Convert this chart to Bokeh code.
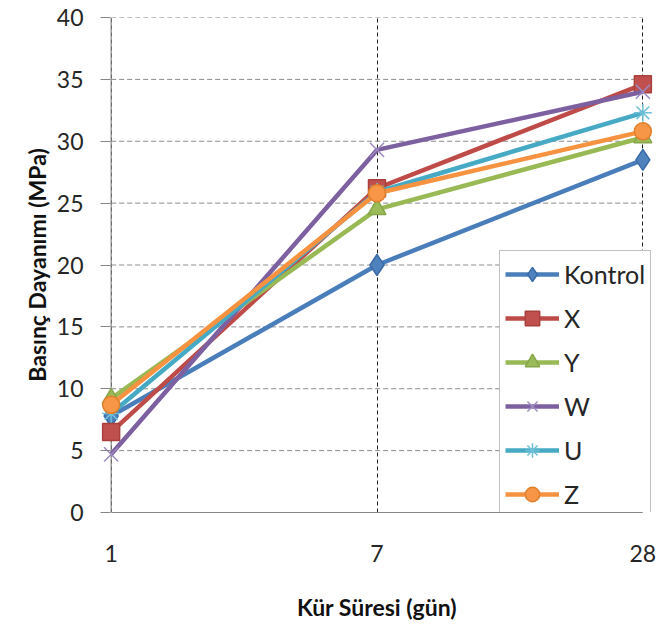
from bokeh.plotting import figure
from bokeh.models import (Range1d, FixedTicker, Legend, LegendItem, ColumnDataSource, Span)
from bokeh.embed import file_html
from bokeh.resources import INLINE

# ---- data ----
days = ["1", "7", "28"]
x_pos = [0, 1, 2]
kontrol = [7.8, 20.0, 28.5]
x_mix = [6.5, 26.2, 34.6]
y_mix = [9.2, 24.5, 30.3]
w_mix = [4.7, 29.3, 34.0]
u_mix = [8.0, 25.9, 32.3]
z_mix = [8.7, 25.8, 30.8]
series_names = ["Kontrol", "X", "Y", "W", "U", "Z"]
y_ticks = [0, 5, 10, 15, 20, 25, 30, 35, 40]

FONT = "Lato"

p = figure(width=656, height=626, output_backend="svg", toolbar_location=None,
           x_range=Range1d(-0.04, 2.04), y_range=Range1d(0, 40),
           min_border_left=100, min_border_right=3, min_border_top=17,
           min_border_bottom=114)
p.outline_line_color = None
p.background_fill_color = "white"
p.border_fill_color = "white"

# value axis line at the first category
p.add_layout(Span(location=x_pos[0], dimension="height", line_color="#868686",
                  line_width=1.2, level="underlay"))

# horizontal dashed gridlines between first and last category
grid_y = y_ticks[1:]
p.segment(x0=[x_pos[0]] * len(grid_y), x1=[x_pos[-1]] * len(grid_y),
          y0=grid_y, y1=grid_y, line_color="#8a8a8a", line_width=1,
          line_dash="5 3")
p.ygrid.visible = False

# vertical dashed gridlines at categories
p.xgrid.ticker = FixedTicker(ticks=x_pos)
p.xgrid.grid_line_color = "#222222"
p.xgrid.grid_line_dash = "4 3"
p.xgrid.grid_line_width = 1

# axes
yax = p.yaxis[0]
yax.ticker = FixedTicker(ticks=y_ticks)
yax.axis_line_color = None
yax.major_tick_line_color = "#868686"
yax.major_tick_out = 0
yax.major_tick_in = 10
yax.minor_tick_line_color = None
yax.major_label_text_font = FONT
yax.major_label_text_font_size = "23px"
yax.major_label_text_color = "#262626"
yax.major_label_standoff = 17
yax.axis_label = "Basınç Dayanımı (MPa)"
yax.axis_label_text_font = FONT
yax.axis_label_text_font_style = "bold"
yax.axis_label_text_font_size = "23px"
yax.axis_label_text_color = "#111111"
yax.axis_label_standoff = 3

xax = p.xaxis[0]
xax.ticker = FixedTicker(ticks=x_pos)
xax.major_label_overrides = {x_pos[i]: days[i] for i in range(len(days))}
xax.bounds = (x_pos[0], x_pos[-1])
xax.axis_line_color = "#868686"
xax.axis_line_width = 1.2
xax.major_tick_out = 0
xax.major_tick_in = 0
xax.minor_tick_line_color = None
xax.major_label_text_font = FONT
xax.major_label_text_font_size = "23px"
xax.major_label_text_color = "#262626"
xax.major_label_standoff = 32
xax.axis_label = "Kür Süresi (gün)"
xax.axis_label_text_font = FONT
xax.axis_label_text_font_style = "bold"
xax.axis_label_text_font_size = "23px"
xax.axis_label_text_color = "#111111"
xax.axis_label_standoff = 28

styles = [
    # line color, marker, marker fill, marker line, size
    ("#4A7EBB", "diamond", "#4F81BD", "#3A6BA8", 21),
    ("#BE4B48", "square", "#C0504D", "#A8413E", 17),
    ("#98B954", "triangle", "#9BBB59", "#86A64A", 18),
    ("#7D60A0", "x", "#9C8AC0", "#9C8AC0", 20),
    ("#46AAC5", "asterisk", "#6FC0D6", "#6FC0D6", 18),
    ("#F69240", "circle", "#F79646", "#E07F2C", 17),
]
data = [kontrol, x_mix, y_mix, w_mix, u_mix, z_mix]

items = []
for name, vals, (lc, mk, mf, ml, sz) in zip(series_names, data, styles):
    src = ColumnDataSource(dict(x=x_pos, y=vals))
    r_line = p.line("x", "y", source=src, line_color=lc, line_width=4.5)
    r_mk = p.scatter("x", "y", source=src, marker=mk, size=sz,
                     fill_color=mf, line_color=ml, line_width=1.5)
    items.append(LegendItem(label=name, renderers=[r_line, r_mk]))

legend = Legend(items=items, location=(399, -6),
                glyph_width=54, glyph_height=36, label_height=36,
                spacing=8, padding=5, margin=0, label_standoff=5,
                label_text_font=FONT, label_text_font_size="25px",
                label_text_color="#262626",
                border_line_color="#868686", border_line_width=1,
                background_fill_color="white", background_fill_alpha=1)
p.add_layout(legend, "center")

open("out.html", "w").write(file_html(p, INLINE))
